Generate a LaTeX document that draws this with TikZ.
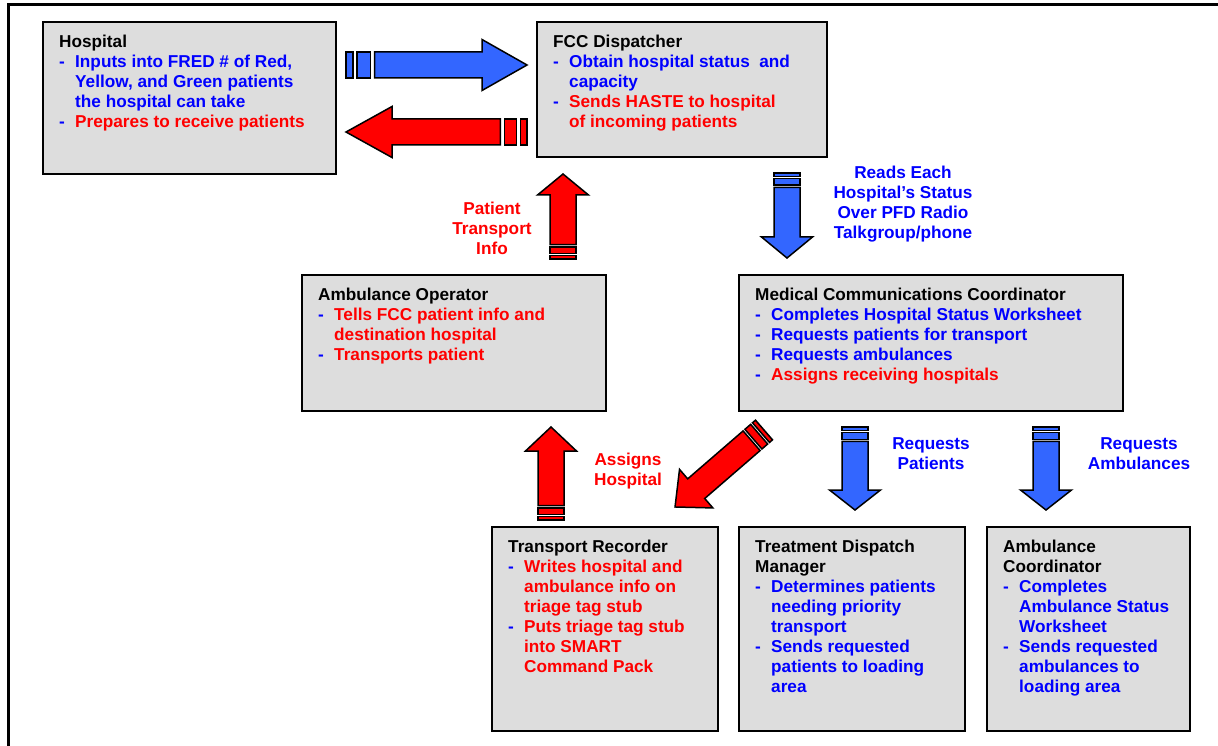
\documentclass[tikz,border=0pt]{standalone}
\usepackage{fontspec}
\setmainfont{Liberation Sans}
\usetikzlibrary{calc}
\definecolor{boxgray}{HTML}{DDDDDD}
\definecolor{tblue}{HTML}{0000FF}
\definecolor{tred}{HTML}{FF0000}
\definecolor{ablue}{HTML}{3366FF}
\definecolor{ared}{HTML}{FF0000}
\newcommand\bl[2]{\makebox[16pt][l]{\textcolor{tblue}{-}}\textcolor{#1}{#2}}
\newcommand\cl[2]{\hspace*{16pt}\textcolor{#1}{#2}}
% striped block arrow: #1 fill, #2 tail coord, #3 tip coord, #4 head length, #5 stripe unit
\newcommand\sarrow[5]{%
  \path let \p1=($(#3)-(#2)$) in \pgfextra{%
    \pgfmathsetmacro\tmpang{atan2(\y1,\x1)}\global\let\sAng\tmpang
    \pgfmathsetmacro\tmplen{veclen(\x1,\y1)}\global\let\sLen\tmplen};
  \begin{scope}[shift={(#2)}, rotate=\sAng, x=1pt, y=1pt]
    \filldraw[arr, fill=#1] (0,-13) rectangle (#5,13);
    \filldraw[arr, fill=#1] ({1.6*#5},-13) rectangle ({3.5*#5},13);
    \filldraw[arr, fill=#1] ({4.1*#5},-13) -- ({\sLen-#4},-13) -- ({\sLen-#4},-25.5) -- (\sLen,0) -- ({\sLen-#4},25.5) -- ({\sLen-#4},13) -- ({4.1*#5},13) -- cycle;
  \end{scope}}
\begin{document}
\begin{tikzpicture}[x=1pt,y=-1pt,
  box/.style={draw, line width=2pt, fill=boxgray, anchor=north west, inner sep=0pt, outer sep=0pt},
  txt/.style={anchor=north west, inner sep=0pt, align=left, font=\fontsize{17.2}{20}\selectfont\bfseries},
  lbl/.style={align=center, inner sep=0pt, font=\fontsize{17.2}{20}\selectfont\bfseries},
  arr/.style={draw, line width=1.5pt, line join=miter}]
\useasboundingbox (0,0) rectangle (1218,746);
% outer frame
\draw[line width=3pt] (8.7,760) -- (8.7,4.5) -- (1230,4.5);

% boxes
\node[box, minimum width=293pt, minimum height=152pt] (hosp) at (43,22) {};
\node[box, minimum width=290pt, minimum height=135pt] (fcc) at (537,22) {};
\node[box, minimum width=304pt, minimum height=136pt] (ambop) at (302,275) {};
\node[box, minimum width=384pt, minimum height=136pt] (mcc) at (739,275) {};
\node[box, minimum width=226pt, minimum height=204pt] (trec) at (492,527) {};
\node[box, minimum width=226pt, minimum height=204pt] (tdm) at (739,527) {};
\node[box, minimum width=203pt, minimum height=204pt] (acoord) at (987,527) {};

% box texts
\node[txt] (hospt) at ($(hosp.north west)+(16,13)$) {Hospital\\
\bl{tblue}{Inputs into FRED \# of Red,}\\
\cl{tblue}{Yellow, and Green patients}\\
\cl{tblue}{the hospital can take}\\
\bl{tred}{Prepares to receive patients}};
\node[txt] (fcct) at ($(fcc.north west)+(16,13)$) {FCC Dispatcher\\
\bl{tblue}{Obtain hospital status~ and}\\
\cl{tblue}{capacity}\\
\bl{tred}{Sends HASTE to hospital}\\
\cl{tred}{of incoming patients}};
\node[txt] (ambopt) at ($(ambop.north west)+(16,13)$) {Ambulance Operator\\
\bl{tred}{Tells FCC patient info and}\\
\cl{tred}{destination hospital}\\
\bl{tred}{Transports patient}};
\node[txt] (mcct) at ($(mcc.north west)+(16,13)$) {Medical Communications Coordinator\\
\bl{tblue}{Completes Hospital Status Worksheet}\\
\bl{tblue}{Requests patients for transport}\\
\bl{tblue}{Requests ambulances}\\
\bl{tred}{Assigns receiving hospitals}};
\node[txt] (trect) at ($(trec.north west)+(16,13)$) {Transport Recorder\\
\bl{tred}{Writes hospital and}\\
\cl{tred}{ambulance info on}\\
\cl{tred}{triage tag stub}\\
\bl{tred}{Puts triage tag stub}\\
\cl{tred}{into SMART}\\
\cl{tred}{Command Pack}};
\node[txt] (tdmt) at ($(tdm.north west)+(16,13)$) {Treatment Dispatch\\
Manager\\
\bl{tblue}{Determines patients}\\
\cl{tblue}{needing priority}\\
\cl{tblue}{transport}\\
\bl{tblue}{Sends requested}\\
\cl{tblue}{patients to loading}\\
\cl{tblue}{area}};
\node[txt] (acoordt) at ($(acoord.north west)+(16,13)$) {Ambulance\\
Coordinator\\
\bl{tblue}{Completes}\\
\cl{tblue}{Ambulance Status}\\
\cl{tblue}{Worksheet}\\
\bl{tblue}{Sends requested}\\
\cl{tblue}{ambulances to}\\
\cl{tblue}{loading area}};

% arrow end points
\coordinate (a1t) at (346,65);   \coordinate (a1h) at (527,65);
\coordinate (a2t) at (527,132);  \coordinate (a2h) at (346,132);
\coordinate (a3t) at (563,259);  \coordinate (a3h) at (563,174);
\coordinate (a4t) at (787,173);  \coordinate (a4h) at (787,258);
\coordinate (a5t) at (551,520);  \coordinate (a5h) at (551,427);
\coordinate (a6t) at (764,430);  \coordinate (a6h) at (675,507);
\coordinate (a7t) at (855,427);  \coordinate (a7h) at (855,510);
\coordinate (a8t) at (1046,427); \coordinate (a8h) at (1046,510);

\sarrow{ablue}{a1t}{a1h}{45}{7}
\sarrow{ared}{a2t}{a2h}{46}{6.5}
\sarrow{ared}{a3t}{a3h}{21}{3.5}
\sarrow{ablue}{a4t}{a4h}{21}{3.5}
\sarrow{ared}{a5t}{a5h}{24}{3.5}
\sarrow{ared}{a6t}{a6h}{28}{4}
\sarrow{ablue}{a7t}{a7h}{20}{3.5}
\sarrow{ablue}{a8t}{a8h}{20}{3.5}

% arrow labels
\node[lbl, text=tblue] (lreads) at (903,204) {Reads Each\\Hospital’s Status\\Over PFD Radio\\Talkgroup/phone};
\node[lbl, text=tred] (lpti) at (492,228) {Patient\\Transport\\Info};
\node[lbl, text=tred] (lassign) at (628,471) {Assigns\\Hospital};
\node[lbl, text=tblue] (lreqp) at (931,454) {Requests\\Patients};
\node[lbl, text=tblue] (lreqa) at (1139,454) {Requests\\Ambulances};
\end{tikzpicture}
\end{document}
